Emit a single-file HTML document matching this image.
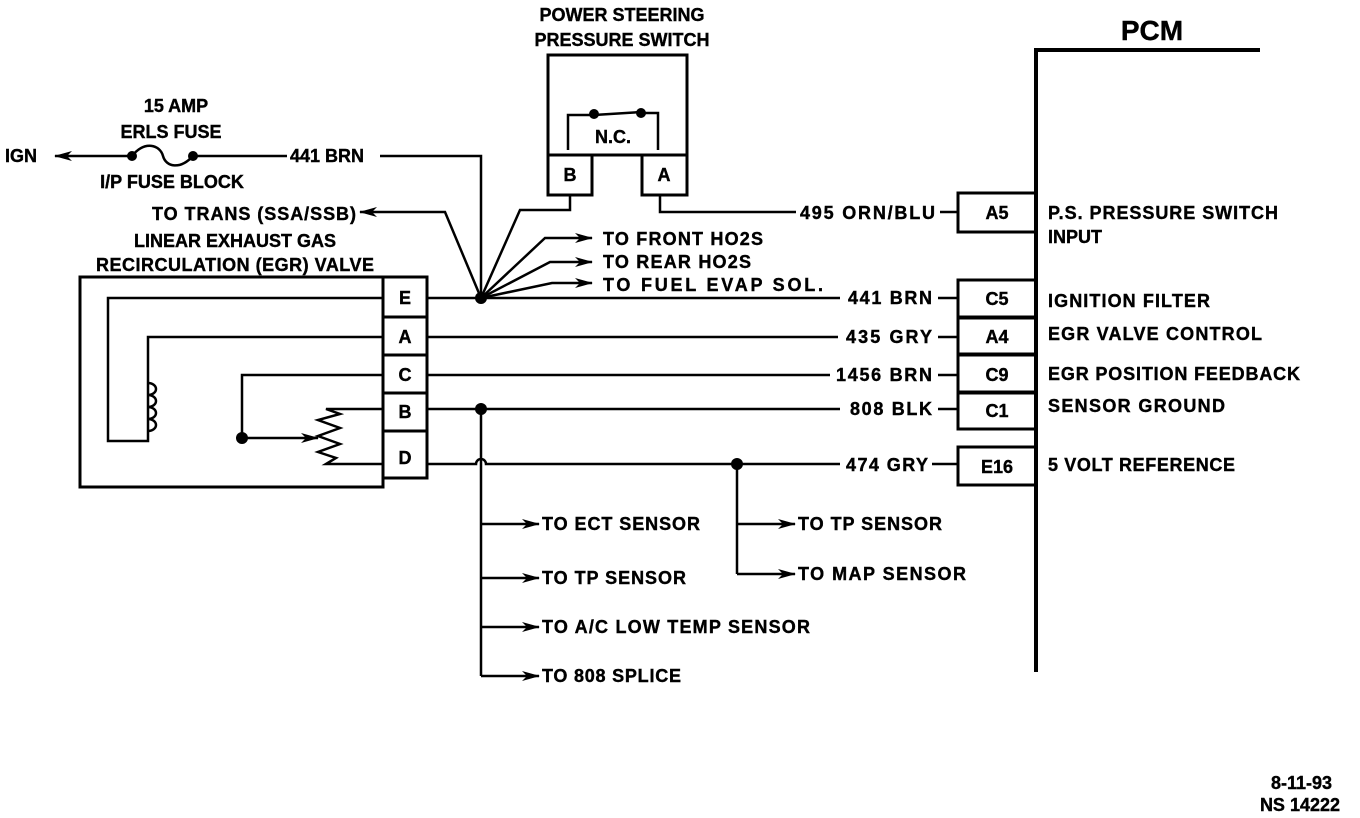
<!DOCTYPE html>
<html><head><style>
html,body{margin:0;padding:0;background:#fff}
svg{display:block}
text{font-family:"Liberation Sans",sans-serif;font-weight:bold;font-size:18px;fill:#000;stroke:#000;stroke-width:0.4}
</style></head><body>
<svg width="1360" height="818" viewBox="0 0 1360 818" xmlns="http://www.w3.org/2000/svg">
<defs><marker id="ar" markerWidth="18" markerHeight="12" refX="17" refY="6" orient="auto" markerUnits="userSpaceOnUse"><path d="M0,1 L18,6 L0,11 L5,6 Z" fill="#000"/></marker></defs>
<g stroke="#000" stroke-width="2.5" fill="none">
<line x1="132" y1="156" x2="55" y2="156" marker-end="url(#ar)"/>
<path d="M132,156 C145,140 160,145 163,156 C166,167 180,170 193,156"/>
<line x1="193" y1="156" x2="287" y2="156"/>
<path d="M380,156 H481 V298"/>
<rect x="548" y="55" width="139" height="100" stroke-width="3"/>
<rect x="548" y="155" width="44" height="40" stroke-width="3"/>
<rect x="642" y="155" width="45" height="40" stroke-width="3"/>
<path d="M568,150 V115 H594 M594,115 L641,112 M641,113 H658 V150" />
<path d="M570,195 V210 H520 L481,298"/>
<path d="M660,195 V212 H796"/>
<line x1="940" y1="212" x2="958" y2="212"/>
<path d="M481,298 L445,212 H360" marker-end="url(#ar)"/>
<path d="M481,298 L545,238 H592" marker-end="url(#ar)"/>
<path d="M481,298 L550,262 H592" marker-end="url(#ar)"/>
<path d="M481,298 L552,283 H592" marker-end="url(#ar)"/>
<rect x="80" y="277" width="303" height="210" stroke-width="3"/>
<rect x="383" y="277" width="44" height="40" stroke-width="3"/>
<rect x="383" y="317" width="44" height="38" stroke-width="3"/>
<rect x="383" y="355" width="44" height="38" stroke-width="3"/>
<rect x="383" y="393" width="44" height="38" stroke-width="3"/>
<rect x="383" y="431" width="44" height="47" stroke-width="3"/>
<path d="M383,298 H108 V441 H148 V337 H383"/>
<path d="M148,383 a8,6 0 0 1 0,12 a8,6 0 0 1 0,12 a8,6 0 0 1 0,12 a8,6 0 0 1 0,12"/>
<path d="M383,375 H242 V438 H318" marker-end="url(#ar)"/>
<path d="M383,409 H326 L340,414 L318,420 L340,428 L318,436 L340,444 L318,452 L336,458 L326,464 H383"/>
<line x1="427" y1="298" x2="840" y2="298"/><line x1="938" y1="298" x2="958" y2="298"/>
<line x1="427" y1="337" x2="838" y2="337"/><line x1="938" y1="337" x2="958" y2="337"/>
<line x1="427" y1="375" x2="830" y2="375"/><line x1="938" y1="375" x2="958" y2="375"/>
<line x1="427" y1="409" x2="840" y2="409"/><line x1="938" y1="409" x2="958" y2="409"/>
<path d="M427,464 H476 a5,5 0 0 1 10,0 H840"/><line x1="932" y1="464" x2="958" y2="464"/>
<path d="M481,409 V676"/>
<path d="M481,524 H539" marker-end="url(#ar)"/>
<path d="M481,578 H539" marker-end="url(#ar)"/>
<path d="M481,627 H539" marker-end="url(#ar)"/>
<path d="M481,676 H539" marker-end="url(#ar)"/>
<path d="M737,464 V574"/>
<path d="M737,524 H795" marker-end="url(#ar)"/>
<path d="M737,574 H795" marker-end="url(#ar)"/>
<path d="M1260,50 H1036 V672" stroke-width="4"/>
<rect x="958" y="193" width="78" height="39" stroke-width="3"/>
<rect x="958" y="280" width="78" height="37" stroke-width="3"/>
<rect x="958" y="318" width="78" height="36" stroke-width="3"/>
<rect x="958" y="355" width="78" height="37" stroke-width="3"/>
<rect x="958" y="393" width="78" height="36" stroke-width="3"/>
<rect x="958" y="447" width="78" height="38" stroke-width="3"/>
</g>
<g fill="#000">
<circle cx="132" cy="156" r="5"/><circle cx="193" cy="156" r="5"/>
<circle cx="594" cy="114" r="5"/><circle cx="641" cy="113" r="5"/>
<circle cx="481" cy="298" r="6"/><circle cx="481" cy="409" r="6"/><circle cx="737" cy="464" r="6"/>
<circle cx="242" cy="438" r="6"/>
</g>
<text x="5" y="162">IGN</text>
<text x="176" y="112" text-anchor="middle">15 AMP</text>
<text x="171" y="138" text-anchor="middle">ERLS FUSE</text>
<text x="172" y="188" text-anchor="middle">I/P FUSE BLOCK</text>
<text x="290" y="162">441 BRN</text>
<text x="622" y="21" text-anchor="middle">POWER STEERING</text>
<text x="622" y="46" text-anchor="middle">PRESSURE SWITCH</text>
<text x="613" y="143" text-anchor="middle">N.C.</text>
<text x="570" y="181" text-anchor="middle">B</text>
<text x="664" y="181" text-anchor="middle">A</text>
<text x="152" y="220" textLength="204">TO TRANS (SSA/SSB)</text>
<text x="235" y="247" text-anchor="middle">LINEAR EXHAUST GAS</text>
<text x="235" y="271" text-anchor="middle" textLength="278">RECIRCULATION (EGR) VALVE</text>
<text x="603" y="245" textLength="160">TO FRONT HO2S</text>
<text x="603" y="268" textLength="148">TO REAR HO2S</text>
<text x="603" y="291" textLength="220">TO FUEL EVAP SOL.</text>
<text x="800" y="219" textLength="135">495 ORN/BLU</text>
<text x="405" y="304" text-anchor="middle">E</text>
<text x="405" y="343" text-anchor="middle">A</text>
<text x="405" y="381" text-anchor="middle">C</text>
<text x="405" y="418" text-anchor="middle">B</text>
<text x="405" y="464" text-anchor="middle">D</text>
<text x="848" y="304" textLength="84">441 BRN</text>
<text x="846" y="343" textLength="86">435 GRY</text>
<text x="836" y="381" textLength="96">1456 BRN</text>
<text x="850" y="415" textLength="82">808 BLK</text>
<text x="846" y="471" textLength="82">474 GRY</text>
<text x="997" y="219" text-anchor="middle">A5</text>
<text x="997" y="305" text-anchor="middle">C5</text>
<text x="997" y="343" text-anchor="middle">A4</text>
<text x="997" y="381" text-anchor="middle">C9</text>
<text x="997" y="417" text-anchor="middle">C1</text>
<text x="997" y="473" text-anchor="middle">E16</text>
<text x="1152" y="40" text-anchor="middle" style="font-size:28px">PCM</text>
<text x="1048" y="219" textLength="230">P.S. PRESSURE SWITCH</text>
<text x="1048" y="243">INPUT</text>
<text x="1048" y="307" textLength="162">IGNITION FILTER</text>
<text x="1048" y="340" textLength="214">EGR VALVE CONTROL</text>
<text x="1048" y="380" textLength="252">EGR POSITION FEEDBACK</text>
<text x="1048" y="412" textLength="177">SENSOR GROUND</text>
<text x="1048" y="471" textLength="187">5 VOLT REFERENCE</text>
<text x="542" y="530" textLength="158">TO ECT SENSOR</text>
<text x="542" y="584" textLength="144">TO TP SENSOR</text>
<text x="542" y="633" textLength="268">TO A/C LOW TEMP SENSOR</text>
<text x="542" y="682" textLength="139">TO 808 SPLICE</text>
<text x="798" y="530" textLength="144">TO TP SENSOR</text>
<text x="798" y="580" textLength="168">TO MAP SENSOR</text>
<text x="1332" y="789" text-anchor="end">8-11-93</text>
<text x="1340" y="811" text-anchor="end">NS 14222</text>
</svg>
</body></html>
